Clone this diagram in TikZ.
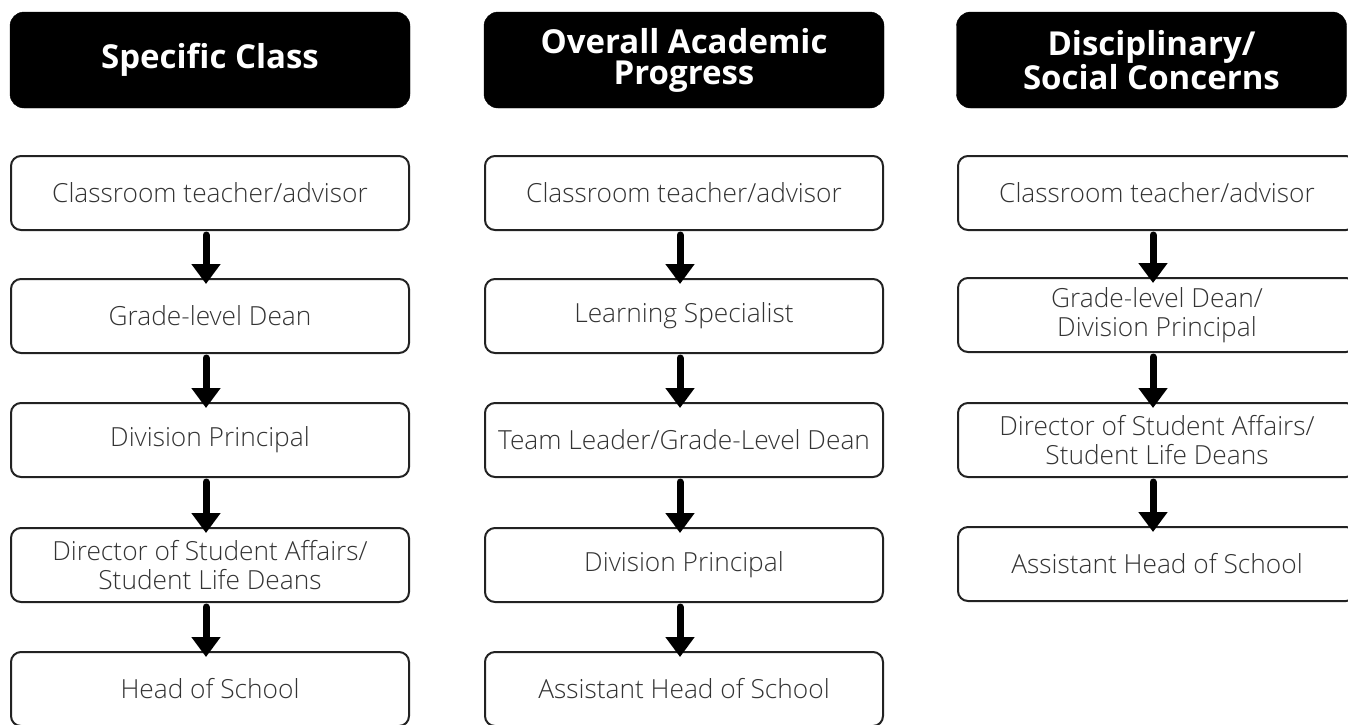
\documentclass[tikz,border=0pt]{standalone}
\usepackage{fontspec}
\setmainfont{Open Sans}
\newfontfamily\lightfont{Open Sans Light}
\usetikzlibrary{arrows.meta}
\definecolor{boxline}{HTML}{222222}
\definecolor{boxtext}{HTML}{333333}
\tikzset{
  head/.style={rectangle, rounded corners=14pt, fill=black, draw=black, minimum width=400pt, minimum height=96pt, inner sep=0pt, text=white, font=\fontsize{33}{31}\selectfont\bfseries, align=center},
  stepbox/.style={rectangle, rounded corners=10pt, draw=boxline, line width=2pt, fill=white, minimum width=398pt, minimum height=74pt, inner sep=0pt, text=boxtext, font=\lightfont\fontsize{26.3}{29.5}\selectfont, align=center},
  flow/.style={line width=7pt, line cap=round, -{Triangle[width=28pt,length=20pt]}, shorten >=-6pt, shorten <=4pt}
}
\begin{document}
\begin{tikzpicture}[x=1pt,y=-1pt]
\useasboundingbox (0,0) rectangle (1348,724);
% column 1
\node[head] (h1) at (210,60) {Specific Class};
\node[stepbox] (a1) at (210,193) {Classroom teacher/advisor};
\node[stepbox] (a2) at (210,316) {Grade-level Dean};
\node[stepbox] (a3) at (210,440) {Division Principal};
\node[stepbox] (a4) at (210,565) {Director of Student Affairs/\\Student Life Deans};
\node[stepbox] (a5) at (210,689) {Head of School};
% column 2
\node[head] (h2) at (684,60) {Overall Academic\\Progress};
\node[stepbox] (b1) at (684,193) {Classroom teacher/advisor};
\node[stepbox] (b2) at (684,316) {Learning Specialist};
\node[stepbox] (b3) at (684,440) {Team Leader/Grade-Level Dean};
\node[stepbox] (b4) at (684,565) {Division Principal};
\node[stepbox] (b5) at (684,689) {Assistant Head of School};
% column 3
\node[head, minimum width=390pt] (h3) at (1151.5,60) {Disciplinary/\\Social Concerns};
\node[stepbox] (c1) at (1157,193) {Classroom teacher/advisor};
\node[stepbox] (c2) at (1157,315) {Grade-level Dean/\\Division Principal};
\node[stepbox] (c3) at (1157,440) {Director of Student Affairs/\\Student Life Deans};
\node[stepbox] (c4) at (1157,564) {Assistant Head of School};
% arrows
\draw[flow] ([xshift=-4pt]a1.south) -- ([xshift=-4pt]a2.north);
\draw[flow] ([xshift=-4pt]a2.south) -- ([xshift=-4pt]a3.north);
\draw[flow] ([xshift=-4pt]a3.south) -- ([xshift=-4pt]a4.north);
\draw[flow] ([xshift=-4pt]a4.south) -- ([xshift=-4pt]a5.north);
\draw[flow] ([xshift=-4pt]b1.south) -- ([xshift=-4pt]b2.north);
\draw[flow] ([xshift=-4pt]b2.south) -- ([xshift=-4pt]b3.north);
\draw[flow] ([xshift=-4pt]b3.south) -- ([xshift=-4pt]b4.north);
\draw[flow] ([xshift=-4pt]b4.south) -- ([xshift=-4pt]b5.north);
\draw[flow] ([xshift=-4pt]c1.south) -- ([xshift=-4pt]c2.north);
\draw[flow] ([xshift=-4pt]c2.south) -- ([xshift=-4pt]c3.north);
\draw[flow] ([xshift=-4pt]c3.south) -- ([xshift=-4pt]c4.north);
\end{tikzpicture}
\end{document}
